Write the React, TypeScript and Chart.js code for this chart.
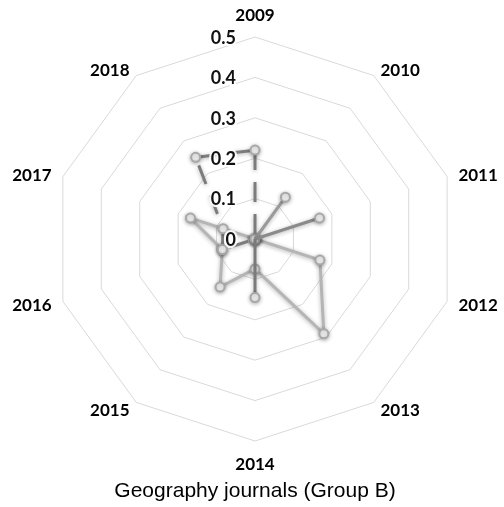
import React, { useEffect, useRef } from "react";
import { Chart, registerables } from "chart.js";

Chart.register(...registerables);

const years = ["2009", "2010", "2011", "2012", "2013", "2014", "2015", "2016", "2017", "2018"];
const tickValues = [0, 0.1, 0.2, 0.3, 0.4, 0.5];
const tickLabels = ["0", "0.1", "0.2", "0.3", "0.4", "0.5"];

// series values (2009..2018)
const seriesLight = [0, 0, 0, 0.169, 0.29, 0.074, 0.147, 0.085, 0.168, 0];
const series2010 = [0, 0.128, 0, 0, 0, 0, 0, 0, 0, 0];
const series2011 = [0, 0, 0.168, 0, 0, 0, 0, 0, 0, 0];
const series2014 = [0, 0, 0, 0, 0, 0.145, 0, 0, 0, 0];
const seriesDashed = [0.22, 0, 0, 0, 0, 0, 0, 0.085, 0.083, 0.25];

const titleText = "Geography journals (Group B)";

const shadowPlugin = {
  id: "shadowPlugin",
  beforeDatasetDraw(chart: any) {
    const ctx = chart.ctx;
    ctx.save();
    ctx.shadowColor = "rgba(0,0,0,0.3)";
    ctx.shadowBlur = 4;
    ctx.shadowOffsetX = 0;
    ctx.shadowOffsetY = 1;
  },
  afterDatasetDraw(chart: any) {
    chart.ctx.restore();
  },
};

const labelsPlugin = {
  id: "labelsPlugin",
  afterDatasetsDraw(chart: any) {
    const scale = chart.scales.r;
    const ctx = chart.ctx;
    ctx.save();
    // tick labels
    ctx.font = "bold 18px Lato";
    ctx.textAlign = "right";
    ctx.textBaseline = "middle";
    tickValues.forEach((v, i) => {
      const d = scale.getDistanceFromCenterForValue(v);
      const x = scale.xCenter - 19;
      const y = scale.yCenter - d + 1;
      ctx.lineWidth = 4;
      ctx.strokeStyle = "rgba(255,255,255,0.9)";
      ctx.strokeText(tickLabels[i], x, y);
      ctx.fillStyle = "#111";
      ctx.fillText(tickLabels[i], x, y);
    });
    // point (category) labels
    ctx.font = "bold 17px Lato";
    ctx.textAlign = "center";
    ctx.textBaseline = "middle";
    ctx.fillStyle = "#000";
    const n = years.length;
    years.forEach((lab, i) => {
      const p = scale.getPointPosition(i, scale.drawingArea);
      const th = (i / n) * 2 * Math.PI;
      const s = Math.sin(th);
      const c = Math.cos(th);
      const dx = Math.sign(Math.round(s * 1000)) * Math.min(Math.abs(s) * 45, 31);
      let dy = -c * 8.5 + 1.5;
      if (Math.abs(c) > 0.95) dy += -Math.sign(c) * 14;
      ctx.fillText(lab, p.x + dx, p.y + dy);
    });
    ctx.restore();
  },
};

const mk = (data: number[], color: string, width: number, dash: number[] = [], showZero = false) => ({
  data,
  borderColor: color,
  borderWidth: width,
  borderDash: dash,
  backgroundColor: "transparent",
  fill: false,
  pointRadius: (c: any) => (showZero || c.raw !== 0 ? 4.5 : 0),
  pointBorderWidth: 2,
  pointBorderColor: "#a8a8a8",
  pointBackgroundColor: "#f7f7f7",
});

export default function App() {
  const ref = useRef<HTMLCanvasElement | null>(null);
  useEffect(() => {
    if (!ref.current) return;
    const chart = new Chart(ref.current, {
      type: "radar",
      data: {
        labels: years,
        datasets: [
          mk(seriesDashed, "#7c7c7c", 3, [20, 12]),
          mk(series2014, "#7a7a7a", 3),
          mk(series2011, "#8a8a8a", 3),
          mk(series2010, "#9a9a9a", 3),
          mk(seriesLight, "#b5b5b5", 3, [], true),
        ],
      },
      options: {
        responsive: false,
        animation: false,
        elements: { line: { tension: 0 } },
        layout: { padding: { left: 8, right: 2, top: 37, bottom: 0 } },
        plugins: {
          legend: { display: false },
          tooltip: { enabled: false },
          title: {
            display: true,
            position: "bottom",
            text: titleText,
            color: "#000",
            font: { family: "Liberation Sans", size: 21, weight: "normal" },
            padding: { top: 36, bottom: 3 },
          },
        },
        scales: {
          r: {
            min: 0,
            max: 0.5,
            ticks: { display: false, stepSize: 0.1 },
            grid: { color: "#d9d9d9", lineWidth: 1 },
            angleLines: { display: false },
            pointLabels: { display: false },
          },
        },
      },
      plugins: [shadowPlugin, labelsPlugin],
    });
    return () => chart.destroy();
  }, []);
  return (
    <div style={{ position: "fixed", left: 0, top: 0, width: 504, height: 507, background: "#fff" }}>
      <canvas ref={ref} width={504} height={507} />
    </div>
  );
}
